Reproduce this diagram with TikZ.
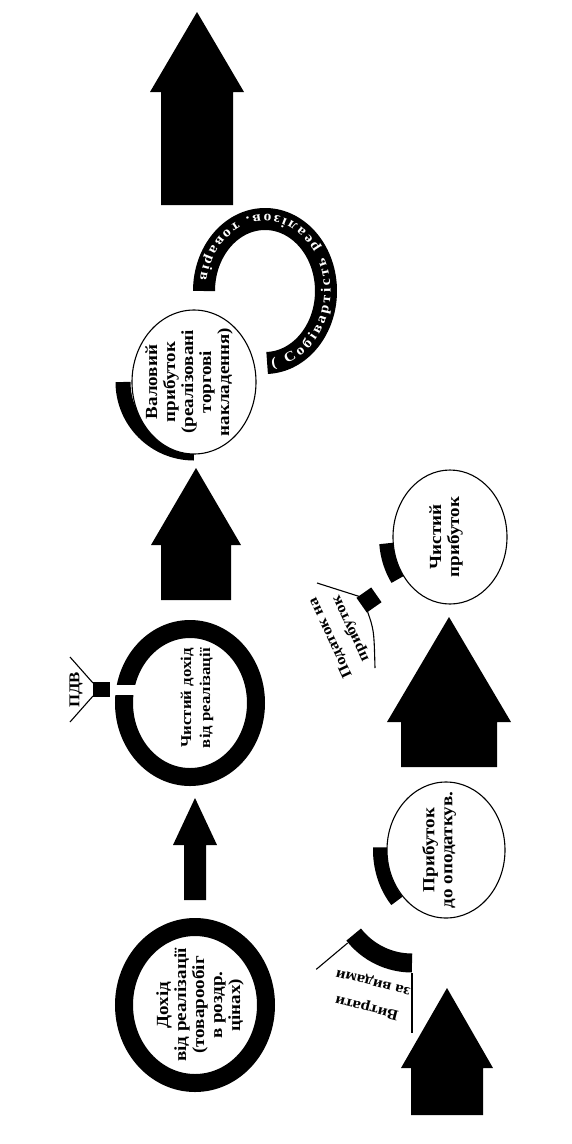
\documentclass[tikz,border=0pt]{standalone}
\usepackage{fontspec}
\setmainfont{Liberation Serif}
\newfontfamily\scanfont[FakeStretch=1.12]{Liberation Serif}
\usetikzlibrary{decorations.text}

\begin{document}
\begin{tikzpicture}[x=1pt,y=1pt,
    lbl/.style={font=\scanfont\bfseries\fontsize{17}{18}\selectfont, align=center, inner sep=0pt},
    small/.style={font=\scanfont\bfseries\fontsize{15}{16}\selectfont, align=center, inner sep=0pt},
    ring/.style={line width=18pt},
    outline/.style={line width=1.1pt, fill=white},
    fanline/.style={line width=1.1pt}]
  \useasboundingbox (0,0) rectangle (572,-1144);

  % Block arrows: centre / tip / head base / foot / head half / shaft half
  \foreach \cx/\tp/\hb/\ft/\hw/\sw in {197/12/92/205/47/36, 196/468/545/600/45/35, 195/798/845/900/22/11, 449/617/722/767/62/48, 447/988/1068/1115/46/36}
    \fill (\cx,-\tp) -- (\cx+\hw,-\hb) -- (\cx+\sw,-\hb) -- (\cx+\sw,-\ft)
      -- (\cx-\sw,-\ft) -- (\cx-\sw,-\hb) -- (\cx-\hw,-\hb) -- cycle;

  % Revenue ring
  \draw[ring] (195,-1005) ellipse [x radius=71, y radius=78];
  \node[lbl, rotate=90] (dokhid) at (200,-1005) {Дохід\\від реалізації\\(товарообіг\\в роздр.\\цінах)};

  % Net revenue ring, VAT outflow
  \draw[ring] (190,-703) ellipse [x radius=66, y radius=74];
  \fill[white] (110,-685) rectangle (137,-695);
  \fill (93,-682) rectangle (110,-697);
  \draw[fanline] (93,-683) -- (70,-657);
  \draw[fanline] (93,-696) -- (70,-722);
  \node[small, rotate=90] (pdv) at (76,-690) {ПДВ};
  \node[lbl, rotate=90, font=\scanfont\bfseries\fontsize{15}{19}\selectfont] (chdokhid) at (197,-698) {Чистий дохід\\від реалізації};

  % Gross profit
  \draw[line width=15pt] ([shift={(180:71)}]194,-382) arc[start angle=180, end angle=270, radius=71];
  \draw[outline] (194,-382) ellipse [x radius=62, y radius=72];
  \node[lbl, rotate=90] (valovyi) at (189,-382) {Валовий\\прибуток\\(реалізовані\\торгові\\накладення)};

  % Cost of goods arc
  \draw[line width=22pt] ([shift={(-88:61 and 72)}]265,-291) arc[start angle=-88, end angle=180, x radius=61, y radius=72];
  \path[decorate, decoration={text along path, text align={fit to path}, raise=-4.5pt,
      text={|\scanfont\bfseries\fontsize{14}{14}\selectfont\color{white}|( Собівартість реалізов. товарів}}]
    ([shift={(-84:61 and 72)}]265,-291) arc[start angle=-84, end angle=172, x radius=61, y radius=72];

  % Net profit, tax outflow
  \draw[line width=14pt] ([shift={(185:64 and 74)}]450,-537) arc[start angle=185, end angle=215, x radius=64, y radius=74];
  \draw[outline] (450,-537) ellipse [x radius=57, y radius=67];
  \node[lbl, rotate=90] (chprybut) at (446,-537) {Чистий\\прибуток};
  \fill[rotate around={35:(369,-600)}] (360,-591) rectangle (378,-609);
  \draw[fanline] (361,-597) -- (317,-583);
  \draw[fanline] (367,-610) .. controls (374,-630) .. (375,-668);
  \node[small, rotate=115] (podatok) at (341,-633) {Податок на\\[6pt]прибуток};

  % Profit before tax, expenses outflow
  \draw[line width=14pt] ([shift={(178:66 and 76)}]446,-850) arc[start angle=178, end angle=222, x radius=66, y radius=76];
  \draw[outline] (446,-850) ellipse [x radius=59, y radius=68];
  \node[lbl, rotate=90] (prdopod) at (439,-850) {Прибуток\\до оподаткув.};
  \coordinate (vfan) at (412,-889);
  \draw[line width=19pt] ([shift={(218:74)}]vfan) arc[start angle=218, end angle=270, radius=74];
  \draw[fanline] ([shift={(220:84)}]vfan) -- ([shift={(220:125)}]vfan);
  \draw[fanline] ([shift={(270:84)}]vfan) -- ([shift={(270:144)}]vfan);
  \node[small, rotate=166] (vytraty) at (370,-995) {Витрати\\[10pt]за видами};
\end{tikzpicture}
\end{document}
